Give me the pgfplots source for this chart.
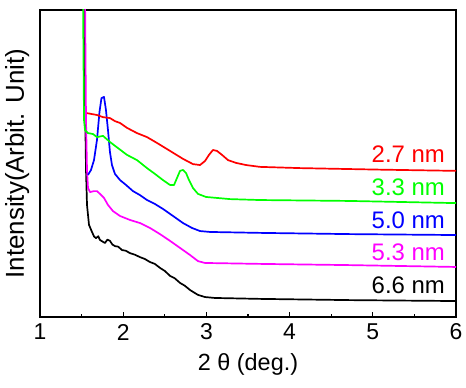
\documentclass[border=0pt]{standalone}
\usepackage{fontspec}
\setmainfont{Liberation Sans}
\usepackage{pgfplots}
\pgfplotsset{compat=1.18}
\definecolor{cred}{RGB}{255,0,0}
\definecolor{cgreen}{RGB}{0,255,0}
\definecolor{cblue}{RGB}{0,0,255}
\definecolor{cmag}{RGB}{255,0,255}
\begin{document}
\begin{tikzpicture}
\path[use as bounding box] (-40bp,-71bp) rectangle (426bp,317bp);
\begin{axis}[
  scale only axis, width=416bp, height=307bp,
  at={(0,0)}, anchor=south west,
  xmin=1, xmax=6, ymin=0, ymax=100,
  xtick={1,2,3,4,5,6}, minor x tick num=1,
  ytick=\empty, xtick pos=left,
  tick align=inside,
  major tick length=5bp, minor tick length=3bp,
  every tick/.style={black, line width=1.2bp},
  axis line style={line width=2.2bp},
  /pgf/number format/assume math mode=true,
  xticklabel style={font=\fontsize{23}{26}\selectfont, anchor=center, yshift=-15bp},
  xlabel={2 θ (deg.)},
  xlabel style={font=\fontsize{23.5}{27}\selectfont, at={(axis description cs:0.5,-0.156)}, anchor=center},
  ylabel={Intensity(Arbit. Unit)},
  ylabel style={font=\fontsize{26}{30}\selectfont, at={(axis description cs:-0.055,0.5)}, anchor=center},
  every axis plot/.append style={line width=1.7bp, line join=round},
]
% black 6.6 nm
\addplot[black] coordinates {
(1.525,110)(1.541,70.7)(1.553,47.9)(1.565,36.5)(1.589,30.0)(1.625,27.7)(1.650,26.2)(1.673,25.7)(1.700,26.3)(1.721,25.1)(1.750,24.6)(1.781,24.1)(1.810,25.2)(1.841,24.8)(1.870,23.6)(1.901,23.1)(1.940,22.9)(1.986,21.8)(2.030,21.6)(2.082,20.8)(2.140,20.3)(2.202,19.5)(2.260,18.9)(2.322,17.9)(2.380,17.3)(2.442,16.0)(2.500,15.0)(2.563,13.4)(2.620,12.6)(2.683,11.1)(2.740,10.2)(2.803,8.8)(2.850,8.0)(2.899,7.2)(2.983,6.5)(3.103,6.2)(3.644,5.9)(4.726,5.5)(6.0,5.2)
};
% magenta 5.3 nm
\addplot[cmag] coordinates {
(1.541,105)(1.553,64.2)(1.565,47.9)(1.577,42.0)(1.601,40.7)(1.649,41.0)(1.685,41.0)(1.721,40.1)(1.769,38.8)(1.817,36.5)(1.877,34.5)(1.962,32.9)(2.082,31.6)(2.202,30.6)(2.322,29.0)(2.442,27.0)(2.563,24.8)(2.683,22.5)(2.803,20.2)(2.899,18.2)(2.983,17.6)(3.644,17.3)(4.726,16.9)(6.0,16.3)
};
% blue 5.0 nm
\addplot[cblue] coordinates {
(1.577,46.3)(1.613,47.9)(1.649,51.1)(1.685,57.7)(1.715,66.8)(1.739,71.3)(1.769,71.7)(1.793,67.4)(1.817,60.9)(1.841,53.7)(1.865,49.5)(1.901,46.6)(1.962,44.6)(2.034,43.0)(2.118,41.0)(2.202,39.7)(2.286,38.1)(2.382,36.8)(2.478,35.2)(2.599,32.9)(2.719,30.6)(2.827,29.0)(2.923,28.0)(3.043,27.7)(3.644,27.4)(4.726,27.0)(6.0,26.7)
};
% green 3.3 nm
\addplot[cgreen] coordinates {
(1.517,105)(1.523,83.7)(1.529,64.2)(1.541,60.9)(1.577,59.9)(1.637,59.6)(1.685,58.6)(1.757,59.0)(1.841,57.0)(1.938,55.0)(2.046,52.8)(2.166,51.1)(2.286,48.5)(2.382,46.6)(2.478,44.6)(2.563,43.0)(2.611,43.0)(2.647,45.3)(2.683,47.6)(2.719,47.9)(2.755,46.9)(2.791,44.6)(2.839,42.0)(2.899,40.1)(2.995,39.1)(3.284,38.4)(3.644,38.1)(4.726,37.8)(6.0,37.1)
};
% red 2.7 nm
\addplot[cred] coordinates {
(1.565,66.4)(1.625,66.1)(1.685,65.8)(1.757,65.1)(1.841,64.8)(1.901,63.8)(1.962,63.2)(2.046,61.6)(2.166,59.9)(2.286,58.6)(2.406,56.7)(2.563,54.1)(2.719,51.5)(2.839,49.8)(2.923,49.5)(2.983,50.8)(3.031,52.8)(3.079,54.4)(3.127,54.1)(3.188,52.8)(3.260,51.1)(3.356,50.2)(3.476,49.5)(3.644,48.9)(4.125,48.5)(5.087,48.0)(6.0,47.6)
};
\node[anchor=east, text=cred, font=\fontsize{24}{28}\selectfont, inner sep=0pt] at (axis cs:5.868,53.1) {2.7 nm};
\node[anchor=east, text=cgreen, font=\fontsize{24}{28}\selectfont, inner sep=0pt] at (axis cs:5.868,42.3) {3.3 nm};
\node[anchor=east, text=cblue, font=\fontsize{24}{28}\selectfont, inner sep=0pt] at (axis cs:5.868,31.6) {5.0 nm};
\node[anchor=east, text=cmag, font=\fontsize{24}{28}\selectfont, inner sep=0pt] at (axis cs:5.868,21.2) {5.3 nm};
\node[anchor=east, text=black, font=\fontsize{24}{28}\selectfont, inner sep=0pt] at (axis cs:5.868,10.4) {6.6 nm};
\end{axis}
\end{tikzpicture}
\end{document}
